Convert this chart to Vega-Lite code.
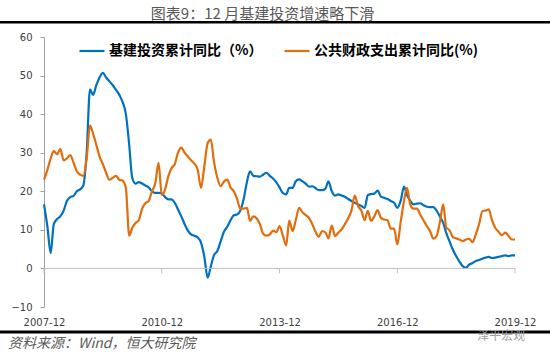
{
  "$schema": "https://vega.github.io/schema/vega-lite/v6.json",
  "width": 471,
  "height": 270,
  "autosize": {"type": "none"},
  "padding": {"left": 44, "top": 37, "right": 35, "bottom": 51},
  "background": "white",
  "config": {"view": {"stroke": null}, "font": "Noto Sans CJK SC"},
  "title": {"text": "图表9：12 月基建投资增速略下滑", "fontSize": 15, "fontWeight": "normal", "color": "#595959", "anchor": "middle", "frame": "group", "dx": -17, "dy": 5, "offset": 4, "font": "Noto Sans CJK SC"},
  "layer": [
    {
      "data": {"values": [
        {"d":"2007-12","a":16.6,"b":23.0},{"d":"2008-01","a":11.0,"b":25.5},{"d":"2008-02","a":4.0,"b":28.5},{"d":"2008-03","a":11.5,"b":30.4},{"d":"2008-04","a":12.8,"b":29.6},{"d":"2008-05","a":13.5,"b":31.0},{"d":"2008-06","a":15.0,"b":28.0},{"d":"2008-07","a":17.5,"b":28.5},{"d":"2008-08","a":18.5,"b":29.4},{"d":"2008-09","a":18.8,"b":27.4},{"d":"2008-10","a":20.0,"b":25.2},{"d":"2008-11","a":20.5,"b":24.3},{"d":"2008-12","a":21.5,"b":24.0},
        {"d":"2009-01","a":30.0,"b":28.5},{"d":"2009-02","a":46.4,"b":37.0},{"d":"2009-03","a":45.0,"b":35.0},{"d":"2009-04","a":47.5,"b":32.0},{"d":"2009-05","a":49.5,"b":29.0},{"d":"2009-06","a":50.7,"b":27.0},{"d":"2009-07","a":49.5,"b":24.8},{"d":"2009-08","a":48.5,"b":23.0},{"d":"2009-09","a":47.5,"b":23.5},{"d":"2009-10","a":46.3,"b":24.0},{"d":"2009-11","a":45.0,"b":23.0},{"d":"2009-12","a":43.2,"b":22.8},
        {"d":"2010-01","a":40.0,"b":20.8},{"d":"2010-02","a":32.0,"b":8.5},{"d":"2010-03","a":23.5,"b":10.5},{"d":"2010-04","a":22.0,"b":11.8},{"d":"2010-05","a":22.4,"b":12.5},{"d":"2010-06","a":22.0,"b":15.5},{"d":"2010-07","a":21.5,"b":16.9},{"d":"2010-08","a":21.0,"b":17.5},{"d":"2010-09","a":20.0,"b":20.0},{"d":"2010-10","a":19.6,"b":22.0},{"d":"2010-11","a":19.6,"b":27.4},{"d":"2010-12","a":19.5,"b":19.0},
        {"d":"2011-01","a":18.5,"b":20.5},{"d":"2011-02","a":17.9,"b":24.0},{"d":"2011-03","a":17.9,"b":26.0},{"d":"2011-04","a":17.0,"b":27.0},{"d":"2011-05","a":15.3,"b":30.0},{"d":"2011-06","a":13.5,"b":31.3},{"d":"2011-07","a":11.5,"b":30.0},{"d":"2011-08","a":9.8,"b":29.0},{"d":"2011-09","a":8.8,"b":28.0},{"d":"2011-10","a":8.5,"b":27.2},{"d":"2011-11","a":8.0,"b":25.5},{"d":"2011-12","a":6.7,"b":20.9},
        {"d":"2012-01","a":3.0,"b":26.5},{"d":"2012-02","a":-2.4,"b":32.5},{"d":"2012-03","a":0.5,"b":33.4},{"d":"2012-04","a":3.5,"b":27.5},{"d":"2012-05","a":4.5,"b":23.5},{"d":"2012-06","a":7.0,"b":21.3},{"d":"2012-07","a":9.5,"b":22.5},{"d":"2012-08","a":10.8,"b":23.0},{"d":"2012-09","a":12.5,"b":21.0},{"d":"2012-10","a":13.8,"b":20.0},{"d":"2012-11","a":14.0,"b":18.0},{"d":"2012-12","a":15.0,"b":15.5},
        {"d":"2013-01","a":18.0,"b":15.5},{"d":"2013-02","a":22.5,"b":15.7},{"d":"2013-03","a":25.2,"b":12.3},{"d":"2013-04","a":24.0,"b":13.5},{"d":"2013-05","a":23.9,"b":13.0},{"d":"2013-06","a":23.8,"b":11.5},{"d":"2013-07","a":24.3,"b":9.0},{"d":"2013-08","a":24.8,"b":8.5},{"d":"2013-09","a":24.0,"b":8.8},{"d":"2013-10","a":23.3,"b":9.8},{"d":"2013-11","a":22.3,"b":9.4},{"d":"2013-12","a":21.0,"b":11.0},
        {"d":"2014-01","a":19.5,"b":8.5},{"d":"2014-02","a":19.2,"b":6.0},{"d":"2014-03","a":20.9,"b":12.4},{"d":"2014-04","a":20.9,"b":9.7},{"d":"2014-05","a":22.6,"b":12.5},{"d":"2014-06","a":23.1,"b":15.7},{"d":"2014-07","a":22.6,"b":14.6},{"d":"2014-08","a":22.0,"b":13.8},{"d":"2014-09","a":21.2,"b":13.1},{"d":"2014-10","a":21.3,"b":11.5},{"d":"2014-11","a":20.8,"b":9.5},{"d":"2014-12","a":20.3,"b":8.2},
        {"d":"2015-01","a":20.3,"b":9.7},{"d":"2015-02","a":20.7,"b":9.3},{"d":"2015-03","a":22.6,"b":7.8},{"d":"2015-04","a":20.0,"b":11.1},{"d":"2015-05","a":18.9,"b":8.4},{"d":"2015-06","a":19.2,"b":9.3},{"d":"2015-07","a":18.9,"b":10.1},{"d":"2015-08","a":18.6,"b":11.5},{"d":"2015-09","a":18.0,"b":13.0},{"d":"2015-10","a":17.5,"b":15.0},{"d":"2015-11","a":17.0,"b":18.9},{"d":"2015-12","a":16.6,"b":16.2},
        {"d":"2016-01","a":16.2,"b":15.0},{"d":"2016-02","a":15.7,"b":12.5},{"d":"2016-03","a":19.0,"b":14.9},{"d":"2016-04","a":19.3,"b":12.3},{"d":"2016-05","a":19.4,"b":13.5},{"d":"2016-06","a":20.2,"b":15.1},{"d":"2016-07","a":18.6,"b":13.1},{"d":"2016-08","a":18.3,"b":12.7},{"d":"2016-09","a":18.0,"b":12.5},{"d":"2016-10","a":17.5,"b":10.3},{"d":"2016-11","a":17.0,"b":10.3},{"d":"2016-12","a":15.7,"b":6.2},
        {"d":"2017-01","a":17.5,"b":12.0},{"d":"2017-02","a":21.2,"b":17.5},{"d":"2017-03","a":19.0,"b":20.9},{"d":"2017-04","a":17.5,"b":16.5},{"d":"2017-05","a":16.6,"b":15.5},{"d":"2017-06","a":16.8,"b":15.5},{"d":"2017-07","a":16.9,"b":14.0},{"d":"2017-08","a":16.4,"b":12.5},{"d":"2017-09","a":16.0,"b":11.0},{"d":"2017-10","a":15.9,"b":9.7},{"d":"2017-11","a":15.9,"b":7.7},{"d":"2017-12","a":15.0,"b":8.4},
        {"d":"2018-01","a":13.5,"b":12.0},{"d":"2018-02","a":11.8,"b":16.6},{"d":"2018-03","a":9.2,"b":10.6},{"d":"2018-04","a":7.0,"b":9.9},{"d":"2018-05","a":4.9,"b":8.1},{"d":"2018-06","a":3.2,"b":7.8},{"d":"2018-07","a":1.8,"b":7.5},{"d":"2018-08","a":0.6,"b":7.1},{"d":"2018-09","a":0.2,"b":7.5},{"d":"2018-10","a":1.0,"b":7.7},{"d":"2018-11","a":1.4,"b":6.8},{"d":"2018-12","a":1.9,"b":8.8},
        {"d":"2019-01","a":2.2,"b":11.5},{"d":"2019-02","a":2.5,"b":14.9},{"d":"2019-03","a":2.8,"b":15.0},{"d":"2019-04","a":3.0,"b":15.3},{"d":"2019-05","a":2.7,"b":12.5},{"d":"2019-06","a":2.8,"b":10.5},{"d":"2019-07","a":3.0,"b":9.5},{"d":"2019-08","a":3.2,"b":8.6},{"d":"2019-09","a":3.4,"b":9.3},{"d":"2019-10","a":3.2,"b":8.5},{"d":"2019-11","a":3.4,"b":7.5},{"d":"2019-12","a":3.4,"b":7.5}
      ]},
      "transform": [{"fold": ["a", "b"], "as": ["s", "v"]}],
      "mark": {"type": "line", "strokeWidth": 2.2, "interpolate": "monotone"},
      "encoding": {
        "x": {"field": "d", "type": "temporal",
          "scale": {"type": "utc", "domain": [{"year": 2007, "month": 12, "date": 1, "utc": true}, {"year": 2019, "month": 12, "date": 1, "utc": true}]},
          "axis": {"title": null, "format": "%Y-%m", "values": [{"year": 2007, "month": 12, "date": 1, "utc": true}, {"year": 2010, "month": 12, "date": 1, "utc": true}, {"year": 2013, "month": 12, "date": 1, "utc": true}, {"year": 2016, "month": 12, "date": 1, "utc": true}, {"year": 2019, "month": 12, "date": 1, "utc": true}],
            "domain": false, "ticks": false, "grid": false, "labelPadding": 10, "labelFontSize": 10, "labelColor": "#404040", "labelFont": "DejaVu Sans", "labelFlush": false, "labelOverlap": false}},
        "y": {"field": "v", "type": "quantitative", "scale": {"domain": [-10, 60], "nice": false, "zero": false},
          "axis": {"title": null, "tickCount": 7, "grid": false, "domainColor": "#A0A0A0", "tickColor": "#A0A0A0", "tickSize": 4, "labelPadding": 8, "labelFontSize": 10, "labelColor": "#404040", "labelFont": "DejaVu Sans", "labelOverlap": false, "labelBound": false, "labelFlush": false, "labelSeparation": 0, "labelBaseline": "middle", "labelLineHeight": 12}},
        "color": {"field": "s", "type": "nominal", "scale": {"domain": ["a", "b"], "range": ["#0070C0", "#E46C0A"]},
          "legend": {"title": null, "orient": "none", "legendX": 34, "legendY": 0, "direction": "horizontal", "symbolType": "stroke", "symbolSize": 625, "symbolStrokeWidth": 2.2, "labelFontSize": 14, "labelFontWeight": "bold", "labelFont": "Noto Sans CJK SC", "labelColor": "#000000", "labelExpr": "datum.label == 'a' ? '基建投资累计同比（%）' : '公共财政支出累计同比(%)'", "columnPadding": 17, "labelOffset": 3, "labelLimit": 300}}
      }
    },
    {
      "data": {"values": [{}]},
      "mark": {"type": "rule", "color": "#BFBFBF", "strokeWidth": 1},
      "encoding": {"y": {"datum": 0, "type": "quantitative"}}
    },
    {
      "data": {"values": [{"t": "2007-12"}, {"t": "2010-12"}, {"t": "2013-12"}, {"t": "2016-12"}, {"t": "2019-12"}]},
      "mark": {"type": "rule", "color": "#BFBFBF", "strokeWidth": 1},
      "encoding": {
        "x": {"field": "t", "type": "temporal"},
        "y": {"datum": 0, "type": "quantitative"},
        "y2": {"datum": -1.3}
      }
    },
    {
      "data": {"values": [{}]},
      "mark": {"type": "rule", "color": "#000000", "strokeWidth": 2.5},
      "encoding": {
        "x": {"datum": {"year": 2006, "month": 10, "date": 1, "utc": true}, "type": "temporal"},
        "x2": {"datum": {"year": 2020, "month": 11, "date": 1, "utc": true}},
        "y": {"datum": 63.8, "type": "quantitative"}
      }
    },
    {
      "data": {"values": [{}]},
      "mark": {"type": "rule", "color": "#000000", "strokeWidth": 3},
      "encoding": {
        "x": {"datum": {"year": 2006, "month": 10, "date": 1, "utc": true}, "type": "temporal"},
        "x2": {"datum": {"year": 2020, "month": 11, "date": 1, "utc": true}},
        "y": {"datum": -16.5, "type": "quantitative"}
      }
    },
    {
      "data": {"values": [{}]},
      "mark": {"type": "text", "align": "left", "baseline": "middle", "fontSize": 14, "fontStyle": "italic", "color": "#595959", "font": "Noto Sans CJK SC", "text": "资料来源：Wind，恒大研究院"},
      "encoding": {
        "x": {"datum": {"year": 2007, "month": 1, "date": 1, "utc": true}, "type": "temporal"},
        "y": {"datum": -19.7, "type": "quantitative"}
      }
    },
    {
      "data": {"values": [{}]},
      "mark": {"type": "text", "align": "left", "baseline": "middle", "fontSize": 12, "color": "#A0A0A0", "font": "Noto Sans CJK SC", "text": "泽平宏观"},
      "encoding": {
        "x": {"datum": {"year": 2018, "month": 12, "date": 14, "utc": true}, "type": "temporal"},
        "y": {"datum": -17.4, "type": "quantitative"}
      }
    }
  ]
}
